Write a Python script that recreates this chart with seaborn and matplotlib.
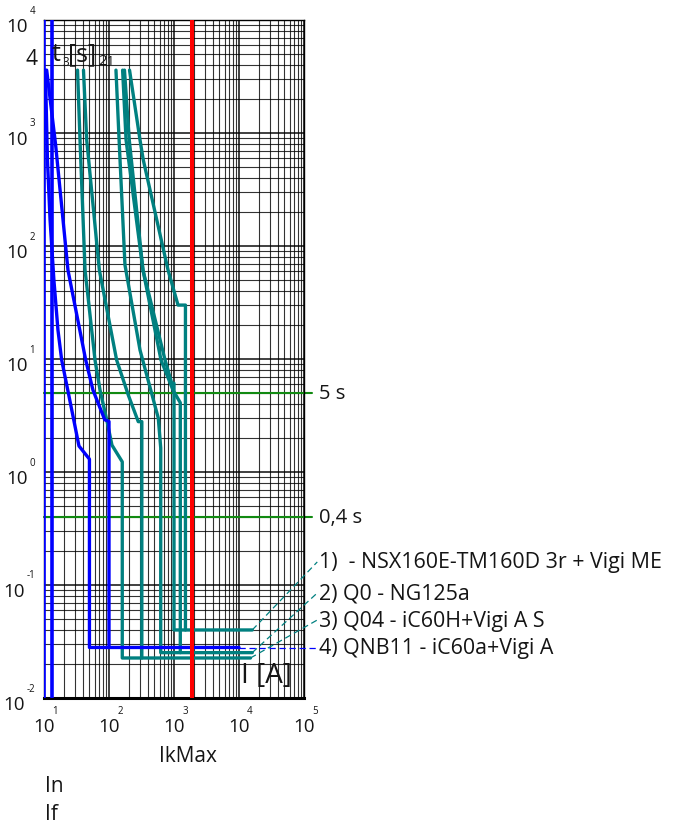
import numpy as np
import pandas as pd
import matplotlib
matplotlib.use("Agg")
import matplotlib.pyplot as plt
import seaborn as sns
from matplotlib.ticker import LogLocator, NullFormatter

# ---------------- data (current in A, time in s) ----------------
# 4) QNB11 - iC60a+Vigi A  (blue)
b4_min_I = [10.5, 11.3, 12.4, 14.2, 16.4, 18.7, 23.7, 34.5, 50, 50, 10000]
b4_min_t = [3600, 577, 170, 50, 18, 9.8, 5.0, 1.7, 1.3, 0.028, 0.028]
b4_max_I = [11.0, 15.1, 23.4, 43.8, 56.7, 86, 100, 100]
b4_max_t = [3600, 783, 61, 9.8, 5.3, 2.9, 2.8, 0.028]
# 3) Q04 - iC60H+Vigi A S (teal)
b3_min_I = [32.8, 35.8, 42.8, 60.9, 72.8, 93.1, 111, 160, 160, 15000]
b3_min_t = [3600, 867, 61.4, 9.8, 5.3, 2.83, 1.73, 1.23, 0.0226, 0.0226]
b3_max_I = [40.5, 45.4, 71, 131, 198, 282, 320, 320]
b3_max_t = [3600, 867, 61.4, 9.8, 4.8, 2.79, 2.79, 0.0226]
# 2) Q0 - NG125a (teal)
b2_min_I = [128, 143, 176, 300, 573, 625, 625, 16000]
b2_min_t = [3600, 867, 68, 12, 3.0, 1.63, 0.0252, 0.0252]
b2_max_I = [162, 183, 333, 631, 966, 1250, 1250]
b2_max_t = [3600, 867, 61.4, 9.8, 5.3, 4.1, 0.0252]
# 1) NSX160E-TM160D 3r + Vigi ME (teal)
b1_min_I = [173, 205, 333, 728, 923, 1000, 1000, 16000]
b1_min_t = [3600, 867, 61.4, 9.8, 6.1, 6.1, 0.04, 0.04]
b1_max_I = [207, 300, 337, 809, 1153, 1500, 1500]
b1_max_t = [3600, 867, 577, 61.4, 30, 30, 0.04]

blue_verticals = [10.1, 13.2]
ik_max = 1890
time_marks = [5, 0.4]
time_labels = ["5 s", "0,4 s"]

labels = ["1)  - NSX160E-TM160D 3r + Vigi ME", "2) Q0 - NG125a",
          "3) Q04 - iC60H+Vigi A S", "4) QNB11 - iC60a+Vigi A"]
label_t = [0.16, 0.085, 0.049, 0.0277]          # label anchor times
leader_start_I = [16000, 16000, 15000, 10000]
leader_start_t = [0.04, 0.0252, 0.0226, 0.0277]
label_anchor_I = 160000

x_decades = [1, 2, 3, 4, 5]
y_decades = [-2, -1, 0, 1, 2, 3, 4]

# ---------------- figure ----------------
W, H = 683, 826
sns.set_theme(style="white")
plt.rcParams['font.family'] = ['Open Sans', 'DejaVu Sans']
TXT = '#151515'

fig = plt.figure(figsize=(W / 100, H / 100), dpi=100)
L, R, T, B = 44, 304, 20, 698
ax = fig.add_axes([L / W, 1 - B / H, (R - L) / W, (B - T) / H])
ax.set_xscale('log')
ax.set_yscale('log')
ax.set_xlim(10, 1e5)
ax.set_ylim(1e-2, 1e4)

ax.xaxis.set_major_locator(LogLocator(base=10, numticks=10))
ax.yaxis.set_major_locator(LogLocator(base=10, numticks=10))
ax.xaxis.set_minor_locator(LogLocator(base=10, subs=np.arange(2, 10), numticks=20))
ax.yaxis.set_minor_locator(LogLocator(base=10, subs=np.arange(2, 10), numticks=20))
for a in (ax.xaxis, ax.yaxis):
    a.set_major_formatter(NullFormatter())
    a.set_minor_formatter(NullFormatter())
ax.tick_params(which='both', length=0)
ax.grid(which='major', color='black', lw=1.1, alpha=0.95)
ax.grid(which='minor', color='black', lw=0.8, alpha=0.8)
ax.set_axisbelow(True)
for s in ['top', 'right', 'left']:
    ax.spines[s].set_color('black')
    ax.spines[s].set_linewidth(1.0)
ax.spines['bottom'].set_color('black')
ax.spines['bottom'].set_linewidth(2.2)

TEAL = '#008080'
BLUE = '#0000ff'

# green time marks
for tm in time_marks:
    ax.plot([10, 1.35e5], [tm, tm], color='#118a11', lw=1.5, clip_on=False, zorder=2)

# blue verticals
for v in blue_verticals:
    ax.axvline(v, color=BLUE, lw=2.6, zorder=3)

curves = [
    (b1_min_I, b1_min_t, TEAL), (b1_max_I, b1_max_t, TEAL),
    (b2_min_I, b2_min_t, TEAL), (b2_max_I, b2_max_t, TEAL),
    (b3_min_I, b3_min_t, TEAL), (b3_max_I, b3_max_t, TEAL),
    (b4_min_I, b4_min_t, BLUE), (b4_max_I, b4_max_t, BLUE),
]
for I, t, c in curves:
    df = pd.DataFrame({'I': I, 't': t})
    sns.lineplot(data=df, x='I', y='t', sort=False, estimator=None,
                 color=c, lw=2.4, ax=ax, zorder=4)

# red IkMax
ax.axvline(ik_max, color='#ff0000', lw=2.9, zorder=5)

ax.set_xlabel('')
ax.set_ylabel('')

# leaders
for i in range(4):
    col = BLUE if i == 3 else TEAL
    ax.plot([leader_start_I[i], label_anchor_I], [leader_start_t[i], label_t[i]],
            color=col, lw=0.9, ls=(0, (5, 3)), clip_on=False, zorder=6)

def fx(px):
    return px / W

def fy(py):
    return 1 - py / H

# tick labels
for k in x_decades:
    ax.annotate('10', xy=(10.0 ** k, 0), xycoords=('data', 'axes fraction'),
                xytext=(0, -29), textcoords='offset pixels', ha='center', va='center',
                fontsize=13.5, color=TXT, annotation_clip=False)
    ax.annotate(str(k), xy=(10.0 ** k, 0), xycoords=('data', 'axes fraction'),
                xytext=(11, -13), textcoords='offset pixels', ha='center', va='center',
                fontsize=7, color=TXT, annotation_clip=False)
for k in y_decades:
    dx10 = -16 if k >= 0 else -19
    ax.annotate('10', xy=(0, 10.0 ** k), xycoords=('axes fraction', 'data'),
                xytext=(dx10, -7), textcoords='offset pixels', ha='right', va='center',
                fontsize=13.5, color=TXT, annotation_clip=False)
    ax.annotate(str(k), xy=(0, 10.0 ** k), xycoords=('axes fraction', 'data'),
                xytext=(dx10 + 1.5, 9), textcoords='offset pixels', ha='left', va='center',
                fontsize=7, color=TXT, annotation_clip=False)

# time labels
for tm, tl in zip(time_marks, time_labels):
    ax.annotate(tl, xy=(1, tm), xycoords=('axes fraction', 'data'),
                xytext=(15, -1), textcoords='offset pixels', ha='left', va='center',
                fontsize=14.5, color=TXT, annotation_clip=False)

# breaker labels
for i, lab in enumerate(labels):
    ax.annotate(lab, xy=(label_anchor_I, label_t[i]), xycoords='data',
                xytext=(2, -1), textcoords='offset pixels', ha='left', va='center',
                fontsize=15.4, color=TXT, annotation_clip=False)

# misc texts
fig.text(fx(52), fy(61), 't', fontsize=18, color=TXT, va='baseline')
fig.text(fx(62.5), fy(66), '3', fontsize=8.5, color=TXT, va='baseline')
fig.text(fx(68.5), fy(61), '[s]', fontsize=18, color=TXT, va='baseline')
fig.text(fx(98), fy(65), '2', fontsize=11, color=TXT, va='baseline')
fig.text(fx(107), fy(65), '1', fontsize=9, color=TXT, va='baseline')
fig.text(fx(26), fy(65), '4', fontsize=15, color=TXT, va='baseline')
fig.text(fx(241), fy(683), 'I [A]', fontsize=20, color=TXT, va='baseline')
fig.text(fx(188), fy(762), 'IkMax', fontsize=15, color=TXT, va='baseline', ha='center')
fig.text(fx(45), fy(792), 'In', fontsize=15, color=TXT, va='baseline')
fig.text(fx(45), fy(820), 'If', fontsize=15, color=TXT, va='baseline')

fig.savefig('out.png', dpi=100, facecolor='white')
